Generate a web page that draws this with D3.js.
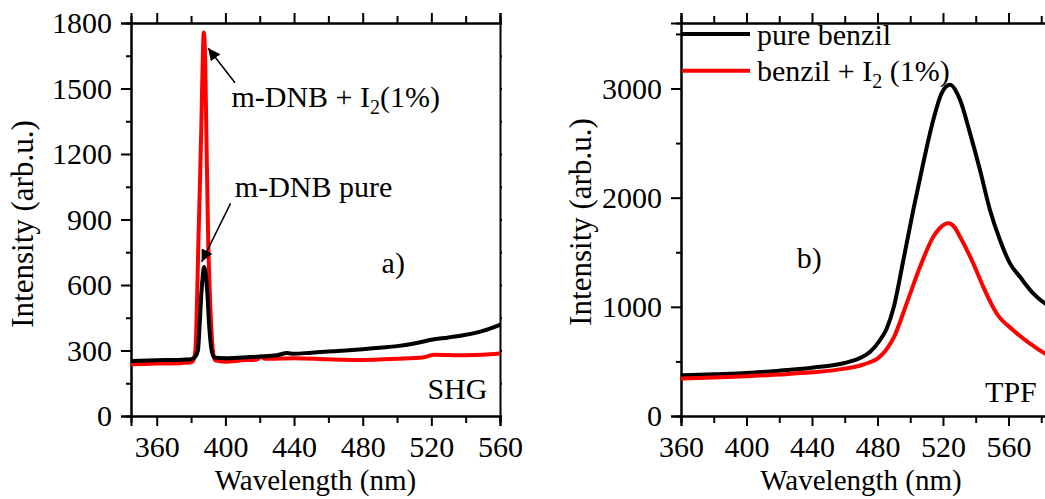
<!DOCTYPE html>
<html><head><meta charset="utf-8">
<script src="https://cdn.jsdelivr.net/npm/d3@7"></script>
<style>
html,body{margin:0;padding:0;background:#fff;}
svg{display:block;font-family:"Liberation Serif","Times New Roman",serif;}
</style></head><body>
<svg id="chart" width="1045" height="499"></svg>
<script>
// ---------- Data ----------
// Panel a) SHG
const shgPureWl  = [345,355,365,375,380,382,384,385,386,387.7,389.5,390.5,392,393.5,400,410,420,430,436,440,450,460,470,480,490,500,510,520,530,540,550,560];
const shgPureInt = [252,254,256,258,260,268,300,420,560,683,560,420,300,268,265,268,272,278,288,285,290,295,300,306,313,320,332,349,360,372,390,418];
const shgDopedWl  = [345,360,375,379,381,382.5,384.4,385.9,386.7,387.4,388.3,388.9,389.9,391.5,392.7,394,400,410,418,421,423,440,460,480,500,515,522,530,540,550,560];
const shgDopedInt = [237,240,243,245,250,300,837,1295,1600,1757,1600,1295,837,450,300,255,249,255,258,272,262,265,260,257,262,268,280,279,278,280,286];
// Panel b) TPF
const tpfPureWl  = [360,380,400,420,440,460,470,475.4,481.5,485.6,490,495.8,501.9,508,514.1,519.2,524.3,530.4,536.5,542.6,548.7,554.8,560.9,567,575.1,582.3,590];
const tpfPureInt = [373,383,394,415,443,486,535,587,694,800,1000,1428,1890,2320,2713,2958,3034,2896,2591,2254,1887,1612,1398,1275,1123,1031,980];
const tpfDopedWl  = [360,380,400,420,440,460,470,475,480,485,490,497.8,506,514.1,518,523.3,527,530.4,538.5,544.6,552.8,562.9,573.1,582.3,590];
const tpfDopedInt = [342,352,364,380,400,434,465,490,526,600,720,1031,1367,1642,1720,1765,1730,1642,1398,1183,939,786,664,572,530];
// Axis ticks
const shgXTicks = [360,400,440,480,520,560];
const shgXMinor = [380,420,460,500,540];
const shgYTicks = [0,300,600,900,1200,1500,1800];
const shgYMinor = [150,450,750,1050,1350,1650];
const tpfXTicks = [360,400,440,480,520,560];
const tpfXMinor = [380,420,460,500,540,580];
const tpfYTicks = [0,1000,2000,3000];
const tpfYMinor = [500,1500,2500,3500];
const legendLabels = ["pure benzil","benzil + I"];

// ---------- Layout ----------
const svg = d3.select("#chart");
svg.append("rect").attr("width",1045).attr("height",499).attr("fill","#fff");
const FS = 30;
const FONT = "Liberation Serif, Times New Roman, serif";

const xA = d3.scaleLinear().domain([345,560]).range([131,500]);
const yA = d3.scaleLinear().domain([0,1800]).range([416,23]);
const xB = d3.scaleLinear().domain([360,590]).range([681,1057.6]);
const yB = d3.scaleLinear().domain([0,3600]).range([416,23]);

function styleAxis(g){
  g.attr("font-family",FONT);
  g.select(".domain").attr("stroke","#000").attr("stroke-width",2);
  g.selectAll(".tick line").attr("stroke","#000").attr("stroke-width",2);
  g.selectAll(".tick text").attr("font-size",FS).attr("fill","#000").attr("font-family",FONT);
}

function panel(x,y,xt,xm,yt,ym,clipId){
  const [x0,x1] = x.range(); const [yb,yt0] = y.range();
  const g = svg.append("g");
  g.append("g").attr("transform",`translate(0,${yb})`)
   .call(d3.axisBottom(x).tickValues(xm).tickSize(7).tickFormat("")).call(styleAxis);
  g.append("g").attr("transform",`translate(0,${yb})`)
   .call(d3.axisBottom(x).tickValues(xt).tickSize(10).tickPadding(10).tickFormat(d3.format("d"))).call(styleAxis);
  g.append("g").attr("transform",`translate(0,${yt0})`)
   .call(d3.axisTop(x).tickValues(xm).tickSize(7).tickFormat("")).call(styleAxis);
  g.append("g").attr("transform",`translate(0,${yt0})`)
   .call(d3.axisTop(x).tickValues(xt).tickSize(10).tickFormat("")).call(styleAxis);
  g.append("g").attr("transform",`translate(${x0},0)`)
   .call(d3.axisLeft(y).tickValues(ym).tickSize(5).tickFormat("")).call(styleAxis);
  g.append("g").attr("transform",`translate(${x0},0)`)
   .call(d3.axisLeft(y).tickValues(yt).tickSize(10).tickPadding(9).tickFormat(d3.format("d"))).call(styleAxis);
  g.append("g").attr("transform",`translate(${x1},0)`)
   .call(d3.axisRight(y).tickValues(yt.concat(ym)).tickSize(2).tickFormat("")).call(styleAxis);
  svg.append("clipPath").attr("id",clipId).append("rect")
    .attr("x",x0).attr("y",yt0).attr("width",x1-x0).attr("height",yb-yt0);
  return g;
}

function series(x,y,wl,val,color,w,clipId){
  const data = wl.map((d,i)=>[d,val[i]]);
  svg.append("path").datum(data)
    .attr("clip-path",`url(#${clipId})`)
    .attr("fill","none").attr("stroke",color).attr("stroke-width",w)
    .attr("stroke-linejoin","round").attr("stroke-linecap","round")
    .attr("d",d3.line().x(d=>x(d[0])).y(d=>y(d[1])).curve(d3.curveMonotoneX));
}

panel(xA,yA,shgXTicks,shgXMinor,shgYTicks,shgYMinor,"clipA");
panel(xB,yB,tpfXTicks,tpfXMinor,tpfYTicks,tpfYMinor,"clipB");

series(xA,yA,shgDopedWl,shgDopedInt,"#ff0000",4,"clipA");
series(xA,yA,shgPureWl,shgPureInt,"#000",4,"clipA");
series(xB,yB,tpfPureWl,tpfPureInt,"#000",4,"clipB");
series(xB,yB,tpfDopedWl,tpfDopedInt,"#ff0000",4,"clipB");

function txt(xp,yp,s,anchor,fs){
  return svg.append("text").attr("x",xp).attr("y",yp).attr("font-size",fs||FS)
    .attr("font-family",FONT)
    .attr("text-anchor",anchor||"start").attr("fill","#000").text(s);
}
txt(315.5,490,"Wavelength (nm)","middle",29);
txt(861,490,"Wavelength (nm)","middle",29);
svg.append("text").attr("transform","translate(33,224) rotate(-90)").attr("font-family",FONT)
  .attr("font-size",31).attr("text-anchor","middle").text("Intensity (arb.u.)");
svg.append("text").attr("transform","translate(591,222) rotate(-90)").attr("font-family",FONT)
  .attr("font-size",31).attr("text-anchor","middle").text("Intensity (arb.u.)");

svg.append("defs").append("marker").attr("id","arr")
  .attr("viewBox","0 0 10 10").attr("refX",10).attr("refY",5)
  .attr("markerWidth",12).attr("markerHeight",12).attr("markerUnits","userSpaceOnUse")
  .attr("orient","auto").append("path").attr("d","M0,0L10,5L0,10z").attr("fill","#000");

function arrow(x,y,a,b,c,d){
  svg.append("line").attr("x1",x(a)).attr("y1",y(b)).attr("x2",x(c)).attr("y2",y(d))
    .attr("stroke","#000").attr("stroke-width",1.5).attr("marker-end","url(#arr)");
}
arrow(xA,yA,405.6,1526,390.0,1684);
arrow(xA,yA,403.0,974,386.2,706);

const t1 = txt(xA(403.5),yA(1416),"m-DNB + I");
t1.append("tspan").attr("font-size",20).attr("dy",7).text("2");
t1.append("tspan").attr("dy",-7).text("(1%)");
txt(xA(405.5),yA(1004),"m-DNB pure");
txt(xA(491),yA(655),"a)");
txt(xA(517.7),yA(80),"SHG");
txt(xB(430.7),yB(1355),"b)");
txt(xB(545.7),yB(128),"TPF");

const legColors = ["#000","#ff0000"];
const legY = [34,70.7];
legendLabels.forEach((l,i)=>{
  svg.append("line").attr("x1",682).attr("x2",750).attr("y1",legY[i]).attr("y2",legY[i])
    .attr("stroke",legColors[i]).attr("stroke-width",4);
  const t = txt(757,legY[i]+10.5,l);
  if(i===1){
    t.append("tspan").attr("font-size",20).attr("dy",7).text("2");
    t.append("tspan").attr("dy",-7).text(" (1%)");
  }
});
</script>
</body></html>
